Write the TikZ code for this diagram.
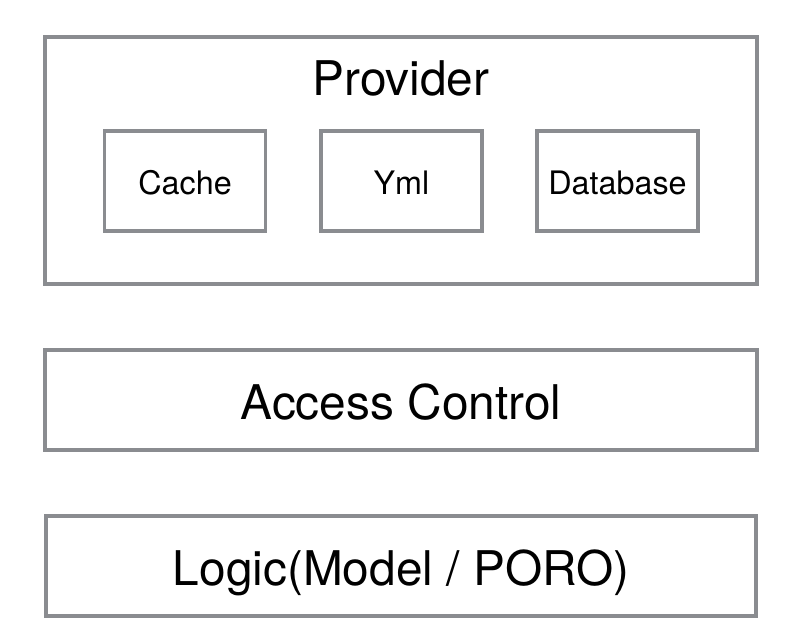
\documentclass[tikz,border=0pt]{standalone}
\usepackage{fontspec}
\setmainfont{TeX Gyre Heros}
\usetikzlibrary{positioning}

\definecolor{boxgray}{HTML}{8A8C90}

\tikzset{
    layer/.style={draw=boxgray, line width=2.3pt, minimum width=712*0.025cm,
	minimum height=100*0.025cm, inner sep=0pt, text height=28pt, text depth=0pt,
	font=\fontsize{34}{40}\selectfont},
    store/.style={draw=boxgray, line width=2.3pt, minimum width=161*0.025cm,
	minimum height=100*0.025cm, inner sep=0pt, text height=19.7pt, text depth=0pt,
	font=\fontsize{23}{28}\selectfont},
}

\begin{document}
\begin{tikzpicture}[x=0.025cm, y=-0.025cm]
    \useasboundingbox (0, 0) rectangle (796, 642);

    \path (401, 160.5) node [layer, minimum height=247*0.025cm] (pv) {};
    \path (401, 78) node [font=\fontsize{34}{40}\selectfont] (pvt) {Provider};
    \path (185, 181) node [store] (ca) {Cache};
    \path (401.5, 181) node [store] (ym) {Yml};
    \path (617.5, 181) node [store] (db) {Database};

    \path (401, 400) node [layer] (ac) {Access Control};
    \path (401, 566) node [layer, minimum width=710*0.025cm] (lg) {Logic(Model / PORO)};
\end{tikzpicture}
\end{document}
